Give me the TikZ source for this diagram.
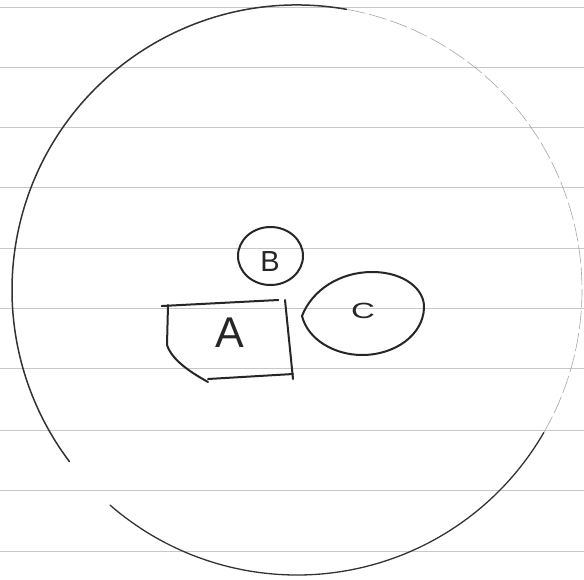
\documentclass[tikz,border=0pt]{standalone}
\usepackage{fontspec}
\setmainfont{Liberation Sans}
\begin{document}
\begin{tikzpicture}[x=1pt,y=1pt,
  paperline/.style={draw=black!22,line width=0.5pt},
  sk/.style={draw=black!85,line width=2pt,line cap=round,line join=round},
  rimdark/.style={draw=black!80,line width=1.3pt,line cap=round},
  rimfaint/.style={draw=black!35,line width=0.6pt,dash pattern=on 18pt off 4pt},
  lab/.style={inner sep=0pt,text=black!85}]
\useasboundingbox (0,0) rectangle (584,-579);
\fill[white] (0,0) rectangle (584,-579);
% lined paper
\foreach \yy in {7,67,127,187,248,308,368,430,490,551}
  \draw[paperline] (0,-\yy) -- (584,-\yy);
% big circle (hand drawn, broken at lower left, faint at upper right)
\coordinate (O) at (297,-290);
\draw[rimdark] (O) ++(229:285) arc[start angle=229,end angle=330,radius=285];
\draw[rimfaint] (O) ++(330:285) arc[start angle=330,end angle=440,radius=285];
\draw[rimdark,line width=1.5pt] (O) ++(80:285) arc[start angle=80,end angle=217,radius=285];
% B
\draw[sk] (270.5,-256) ellipse[x radius=32.5,y radius=29];
\node[lab,font=\fontsize{29}{29}\selectfont] (B) at (270,-262) {B};
% A
\draw[sk] (161.7,-306) -- (278.3,-300);
\draw[sk] (285,-300) -- (293,-379);
\draw[sk] (168,-305) -- (167,-345) .. controls (172,-360) and (190,-372) .. (208,-382);
\draw[sk] (208,-379) -- (293,-374);
\node[lab,font=\fontsize{43}{43}\selectfont] (A) at (230,-333) {A};
% C
\draw[sk] (302,-316) .. controls (312,-290) and (340,-272) .. (372,-272)
  .. controls (405,-272) and (425,-290) .. (424,-308)
  .. controls (423,-335) and (395,-355) .. (362,-355)
  .. controls (335,-355) and (308,-340) .. (302,-316) -- cycle;
\node[lab,font=\fontsize{22}{22}\selectfont,xscale=1.5,transform shape] (C) at (363,-311) {C};
\end{tikzpicture}
\end{document}
